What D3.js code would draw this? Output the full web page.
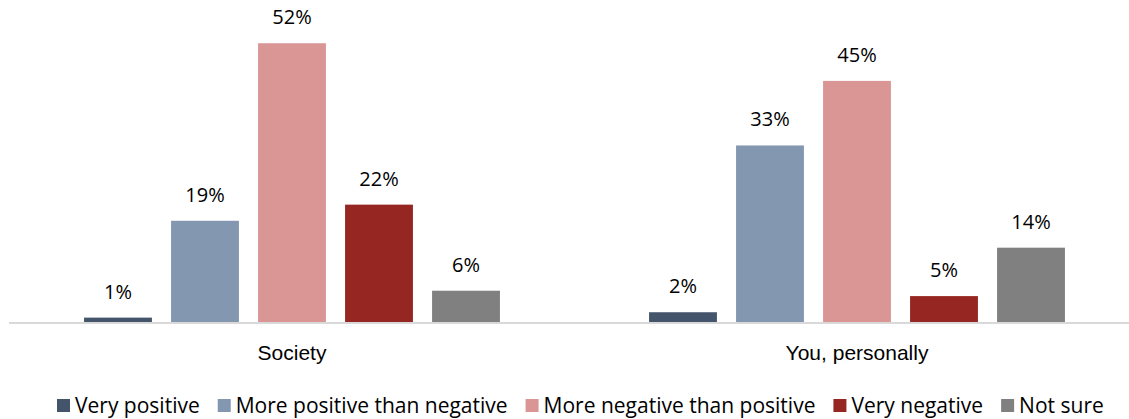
<!DOCTYPE html>
<html>
<head>
<meta charset="utf-8">
<script src="https://cdn.jsdelivr.net/npm/d3@7"></script>
<style>
    body { margin: 0; background: #fff; }
    svg { display: block; font-family: "Open Sans", Lato, sans-serif; }
</style>
</head>
<body>
<svg id="chart" width="1129" height="419"></svg>
<script>
// 数据
var categories = ["Society", "You, personally"];
var series = ["Very positive", "More positive than negative", "More negative than positive", "Very negative", "Not sure"];
var colors = ["#44546a", "#8497b0", "#da9694", "#962622", "#808080"];
var society = [1, 19, 52, 22, 6];
var personally = [2, 33, 45, 5, 14];
var values = [society, personally];

var svg = d3.select("#chart");
var baseY = 323;

// 比例尺
var x0 = d3.scaleBand()
    .domain(categories)
    .range([9.5, 1139.5])
    .padding(0);

var x1 = d3.scaleBand()
    .domain(series)
    .range([0, x0.bandwidth()])
    .paddingInner(0.22)
    .paddingOuter(0.857);

var y = d3.scaleLinear()
    .domain([0, 52])
    .range([baseY, baseY - 52 * 5.38]);

var rows = [];
categories.forEach(function (c, i) {
    series.forEach(function (s, j) {
        rows.push({cat: c, name: s, value: values[i][j], color: colors[j]});
    });
});

// 柱子
svg.append("g")
    .selectAll("rect")
    .data(rows)
    .enter()
    .append("rect")
    .attr("x", function (d) {
        return x0(d.cat) + x1(d.name)
    })
    .attr("y", function (d) {
        return y(d.value)
    })
    .attr("width", x1.bandwidth())
    .attr("height", function (d) {
        return baseY - y(d.value)
    })
    .attr("fill", function (d) {
        return d.color
    });

// 数值标签
svg.append("g")
    .selectAll("text")
    .data(rows)
    .enter()
    .append("text")
    .attr("x", function (d) {
        return x0(d.cat) + x1(d.name) + x1.bandwidth() / 2
    })
    .attr("y", function (d) {
        return y(d.value) - 19
    })
    .attr("text-anchor", "middle")
    .attr("font-size", 20)
    .attr("fill", "#000")
    .text(function (d) {
        return d.value + "%";
    });

// 横轴
var xAxis = svg.append("g")
    .attr("transform", "translate(0," + baseY + ")")
    .call(d3.axisBottom(x0).tickSize(0).tickPadding(22));
xAxis.select(".domain")
    .attr("d", "M9,0H1129")
    .attr("stroke", "#d9d9d9")
    .attr("stroke-width", 2);
xAxis.selectAll("text")
    .attr("font-size", 21)
    .attr("font-family", null)
    .attr("fill", "#000");

// 图例
var legend = svg.append("g").attr("transform", "translate(0,413)");
var lx = 0;
series.forEach(function (s, i) {
    var item = legend.append("g").attr("transform", "translate(" + lx + ",0)");
    item.append("rect")
        .attr("x", 0)
        .attr("y", -14)
        .attr("width", 13)
        .attr("height", 13)
        .attr("fill", colors[i]);
    var t = item.append("text")
        .attr("x", 18)
        .attr("font-size", 21)
        .attr("fill", "#000")
        .text(s);
    lx += 18 + t.node().getComputedTextLength() + 18;
});
var legendWidth = lx - 18;
legend.attr("transform", "translate(" + Math.round(580 - legendWidth / 2) + ",413)");
</script>
</body>
</html>
